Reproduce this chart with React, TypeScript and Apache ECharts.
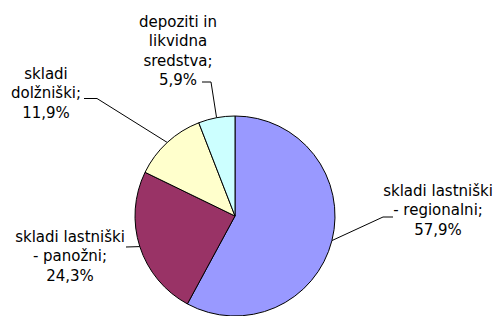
import React, { useEffect, useRef } from "react";
import * as echarts from "echarts";

const categories = [
  "skladi lastniški\n- regionalni",
  "skladi lastniški\n- panožni",
  "skladi\ndolžniški",
  "depoziti in\nlikvidna\nsredstva",
];
const shares = [57.9, 24.3, 11.9, 5.9];
const colors = ["#9999FF", "#993366", "#FFFFCC", "#CCFFFF"];

// label block placement (top-centre of each text block) and leader-line elbows
const labelPlacement = [
  { x: 438, y: 181, elbow: [[383, 217], [393, 217]] },
  { x: 70, y: 227, elbow: [[126, 247]] },
  { x: 46, y: 64, elbow: [[97, 98.5], [84, 98.5]] },
  { x: 178, y: 12, elbow: [[211, 82], [202, 82]] },
];

const CENTER = [235, 216];
const RADIUS = 100;

export default function App() {
  const ref = useRef<HTMLDivElement>(null);
  useEffect(() => {
    document.body.style.margin = "0";
    if (!ref.current) return;
    const chart = echarts.init(ref.current, null, { renderer: "svg" });
    const total = shares.reduce((a, b) => a + b, 0);
    chart.setOption({
      animation: false,
      backgroundColor: "#ffffff",
      series: [
        {
          type: "pie",
          center: CENTER,
          radius: RADIUS,
          startAngle: 90,
          clockwise: true,
          avoidLabelOverlap: false,
          itemStyle: { borderColor: "#000000", borderWidth: 1 },
          label: {
            show: true,
            position: "outside",
            color: "#000000",
            fontFamily: "DejaVu Sans",
            fontSize: 15,
            lineHeight: 19.5,
            align: "center",
            formatter: (p: any) =>
              p.name + ";\n" + Number(p.value).toFixed(1).replace(".", ",") + "%",
          },
          labelLine: {
            show: true,
            length: 10,
            length2: 10,
            lineStyle: { color: "#000000", width: 1 },
          },
          emphasis: { disabled: true },
          labelLayout: (params: any) => {
            const i = params.dataIndex;
            const pl = labelPlacement[i];
            let anchor = params.labelLinePoints && params.labelLinePoints[0];
            if (!anchor) {
              let before = 0;
              for (let k = 0; k < i; k++) before += shares[k];
              const mid = ((before + shares[i] / 2) / total) * Math.PI * 2;
              anchor = [CENTER[0] + RADIUS * Math.sin(mid), CENTER[1] - RADIUS * Math.cos(mid)];
            }
            return {
              x: pl.x,
              y: pl.y,
              align: "center",
              verticalAlign: "top",
              labelLinePoints: [anchor, ...pl.elbow],
            };
          },
          data: categories.map((name, i) => ({
            name,
            value: shares[i],
            itemStyle: { color: colors[i] },
          })),
        },
      ],
    });
    return () => chart.dispose();
  }, []);
  return <div ref={ref} style={{ width: 494, height: 316 }} />;
}
